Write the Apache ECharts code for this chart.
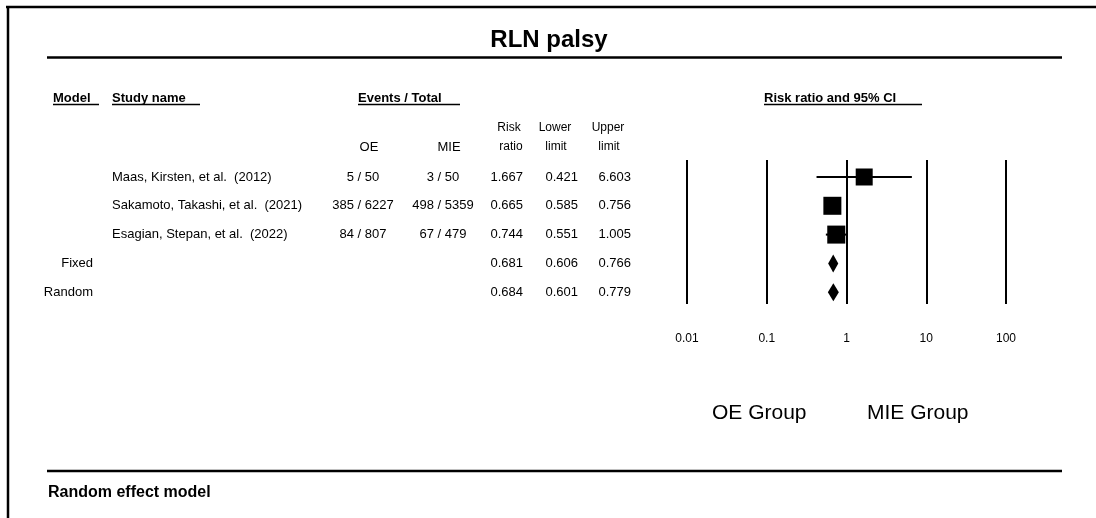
<!DOCTYPE html>
<html>
<head>
<meta charset="utf-8">
<script src="https://cdn.jsdelivr.net/npm/echarts@6/dist/echarts.min.js"></script>
<style>
html, body { margin: 0; padding: 0; background: #fff; }
#chart { width: 1096px; height: 518px; }
</style>
</head>
<body>
<div id="chart"></div>
<script>
// forest plot data, one entry per row (3 studies + 2 pooled models)
var studyNames = ['Maas, Kirsten, et al.  (2012)', 'Sakamoto, Takashi, et al.  (2021)', 'Esagian, Stepan, et al.  (2022)', '', ''];
var modelNames = ['', '', '', 'Fixed', 'Random'];
var oeEvents = [5, 385, 84];
var oeTotal = [50, 6227, 807];
var mieEvents = [3, 498, 67];
var mieTotal = [50, 5359, 479];
var riskRatio = [1.667, 0.665, 0.744, 0.681, 0.684];
var lowerLimit = [0.421, 0.585, 0.551, 0.606, 0.601];
var upperLimit = [6.603, 0.756, 1.005, 0.766, 0.779];
var boxSize = [17, 18, 18];
var tickLabels = ['0.01', '0.1', '1', '10', '100'];

var FONT = '"Liberation Sans", Arial, sans-serif';

function txt(text, x, y, size, bold, align) {
    return {
        type: 'text',
        silent: true,
        style: {
            text: text, x: x, y: y,
            font: (bold ? 'bold ' : '') + size + 'px ' + FONT,
            fill: '#000',
            align: align || 'left', textAlign: align || 'left',
            verticalAlign: 'middle', textVerticalAlign: 'middle'
        }
    };
}
function ln(x1, y1, x2, y2, w) {
    return {
        type: 'line', silent: true,
        shape: { x1: x1, y1: y1, x2: x2, y2: y2 },
        style: { stroke: '#000', lineWidth: w }
    };
}

var rows = riskRatio.map(function (v, i) { return [1, i]; });
var ciData = [0, 1, 2].map(function (i) { return [lowerLimit[i], upperLimit[i], i]; });
var boxData = [0, 1, 2].map(function (i) { return [riskRatio[i], i, boxSize[i]]; });
var diamondData = [3, 4].map(function (i) { return [lowerLimit[i], riskRatio[i], upperLimit[i], i]; });

var myChart = echarts.init(document.getElementById('chart'));

option = {
    backgroundColor: '#fff',
    animation: false,
    grid: { left: 687, right: 90, top: 160, bottom: 214 },
    xAxis: {
        type: 'log',
        logBase: 10,
        min: 0.01,
        max: 100,
        axisLine: { show: false },
        axisTick: { show: false },
        minorTick: { show: false },
        splitLine: { show: true, lineStyle: { color: '#000', width: 2 } },
        axisLabel: {
            margin: 29,
            fontSize: 12,
            fontFamily: FONT,
            color: '#000',
            formatter: function (v) {
                return tickLabels[Math.round(Math.log10(v)) + 2];
            }
        }
    },
    yAxis: {
        type: 'value',
        inverse: true,
        min: -0.59,
        max: 4.41,
        show: false
    },
    series: [
        {
            // table columns to the left of the plot
            type: 'custom',
            silent: true,
            data: rows,
            renderItem: function (params, api) {
                var i = params.dataIndex;
                var y = api.coord([1, i])[1];
                var items = [
                    txt(modelNames[i], 93, y, 13, false, 'right'),
                    txt(studyNames[i], 112, y, 13, false, 'left'),
                    txt(riskRatio[i].toFixed(3), 523, y, 13, false, 'right'),
                    txt(lowerLimit[i].toFixed(3), 578, y, 13, false, 'right'),
                    txt(upperLimit[i].toFixed(3), 631, y, 13, false, 'right')
                ];
                if (i < oeEvents.length) {
                    items.push(txt(oeEvents[i] + ' / ' + oeTotal[i], 363, y, 13, false, 'center'));
                    items.push(txt(mieEvents[i] + ' / ' + mieTotal[i], 443, y, 13, false, 'center'));
                }
                return { type: 'group', children: items };
            }
        },
        {
            // confidence intervals
            type: 'custom',
            silent: true,
            data: ciData,
            encode: { x: [0, 1], y: 2 },
            renderItem: function (params, api) {
                var p1 = api.coord([api.value(0), api.value(2)]);
                var p2 = api.coord([api.value(1), api.value(2)]);
                return {
                    type: 'line',
                    shape: { x1: p1[0], y1: p1[1], x2: p2[0], y2: p2[1] },
                    style: { stroke: '#000', lineWidth: 2 }
                };
            },
            z: 3
        },
        {
            type: 'scatter',
            silent: true,
            symbol: 'rect',
            data: boxData,
            symbolSize: function (d) { return d[2]; },
            itemStyle: { color: '#000', opacity: 1 },
            z: 4
        },
        {
            // pooled estimates
            type: 'custom',
            silent: true,
            data: diamondData,
            encode: { x: [0, 1, 2], y: 3 },
            renderItem: function (params, api) {
                var r = api.value(3);
                var lo = api.coord([api.value(0), r]);
                var mid = api.coord([api.value(1), r]);
                var hi = api.coord([api.value(2), r]);
                return {
                    type: 'polygon',
                    shape: { points: [[lo[0] - 1, lo[1]], [mid[0], mid[1] - 9], [hi[0] + 1, hi[1]], [mid[0], mid[1] + 9]] },
                    style: { fill: '#000' }
                };
            },
            z: 4
        }
    ],
    graphic: [
        ln(6, 7, 1096, 7, 2.5),
        ln(8, 6, 8, 518, 2.5),
        txt('RLN palsy', 549, 40, 24, true, 'center'),
        ln(47, 57.5, 1062, 57.5, 2.5),
        txt('Model', 53, 98, 13, true, 'left'),
        ln(53, 104.5, 99, 104.5, 1.5),
        txt('Study name', 112, 98, 13, true, 'left'),
        ln(112, 104.5, 200, 104.5, 1.5),
        txt('Events / Total', 358, 98, 13, true, 'left'),
        ln(358, 104.5, 460, 104.5, 1.5),
        txt('Risk ratio and 95% CI', 764, 98, 13, true, 'left'),
        ln(764, 104.5, 922, 104.5, 1.5),
        txt('Risk', 509, 128, 12, false, 'center'),
        txt('ratio', 511, 147, 12, false, 'center'),
        txt('Lower', 555, 128, 12, false, 'center'),
        txt('limit', 556, 147, 12, false, 'center'),
        txt('Upper', 608, 128, 12, false, 'center'),
        txt('limit', 609, 147, 12, false, 'center'),
        txt('OE', 369, 147, 13, false, 'center'),
        txt('MIE', 449, 147, 13, false, 'center'),
        txt('OE Group', 712, 413, 21, false, 'left'),
        txt('MIE Group', 867, 413, 21, false, 'left'),
        ln(47, 471, 1062, 471, 2.5),
        txt('Random effect model', 48, 493, 16, true, 'left')
    ]
};

if (option && typeof option === 'object') {
    myChart.setOption(option, true);
}
</script>
</body>
</html>
